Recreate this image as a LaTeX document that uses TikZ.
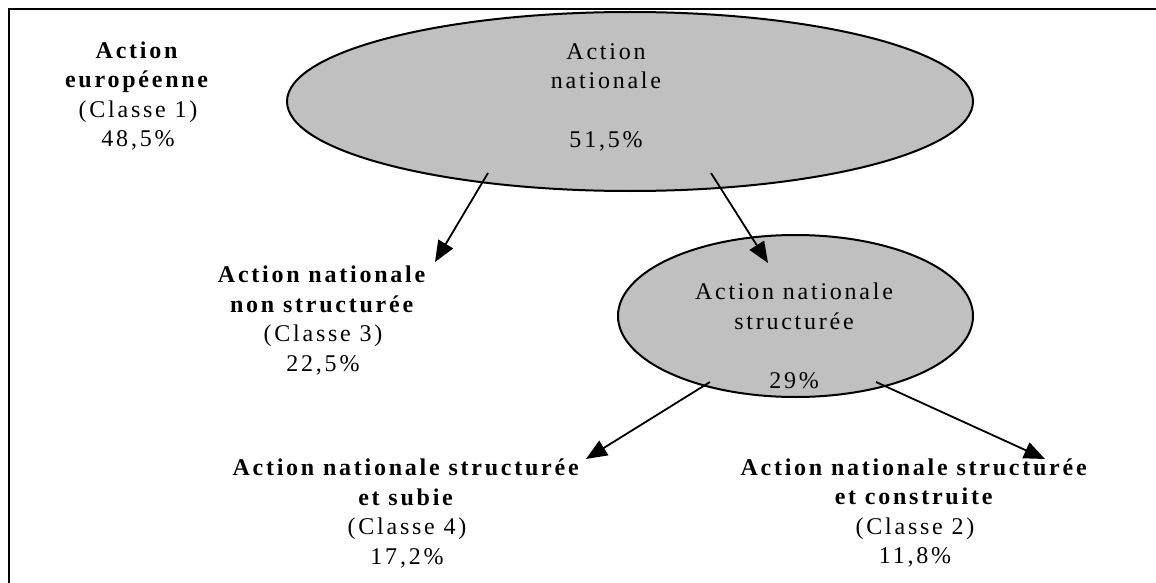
\documentclass[tikz,border=0pt]{standalone}
\usepackage{fontspec}
\setmainfont{Liberation Serif}[LetterSpace=11.5]
\usetikzlibrary{shapes.geometric,arrows.meta}
\definecolor{ellgray}{RGB}{192,192,192}
\tikzset{
  txt/.style={align=center, inner sep=0pt, font=\fontsize{24}{29.5}\selectfont},
  ell/.style={ellipse, draw=black, line width=2pt, fill=ellgray, inner sep=0pt},
  arr/.style={line width=1.8pt, -{Triangle[length=21pt,width=17pt]}},
  frame/.style={line width=2.5pt}
}
\begin{document}
\begin{tikzpicture}[x=1pt,y=-1pt]
\useasboundingbox (0,0) rectangle (1156,583);
\draw[frame] (1170,9) -- (9,9) -- (9,600);
% ellipses
\node[ell, minimum width=686pt, minimum height=179pt] (e1) at (630,101.5) {};
\node[ell, minimum width=355pt, minimum height=162pt] (e2) at (795.5,316) {};
% texts
\node[txt] (t1) at (138,96) {\textbf{Action}\\\textbf{européenne}\\(Classe 1)\\48,5\%};
\node[txt] (e1t) at (606,97.5) {Action\\nationale\\[29.5pt]51,5\%};
\node[txt] (e2t) at (794,336) {Action nationale\\structurée\\[29.5pt]29\%};
\node[txt] (t3) at (323,320.5) {\textbf{Action nationale}\\\textbf{non structurée}\\(Classe 3)\\22,5\%};
\node[txt] (t4) at (407,513.5) {\textbf{Action nationale structurée}\\\textbf{et subie}\\(Classe 4)\\17,2\%};
\node[txt] (t2) at (915,513) {\textbf{Action nationale structurée}\\\textbf{et construite}\\(Classe 2)\\11,8\%};
% connector ends
\coordinate (s1) at (488,173);
\coordinate (p1) at (435,262);
\coordinate (s2) at (711,173);
\coordinate (p2) at (768,263);
\coordinate (s3) at (710,382);
\coordinate (p3) at (586,459);
\coordinate (s4) at (876,382);
\coordinate (p4) at (1045,459);
\draw[arr] (s1) -- (p1);
\draw[arr] (s2) -- (p2);
\draw[arr] (s3) -- (p3);
\draw[arr] (s4) -- (p4);
\end{tikzpicture}
\end{document}
